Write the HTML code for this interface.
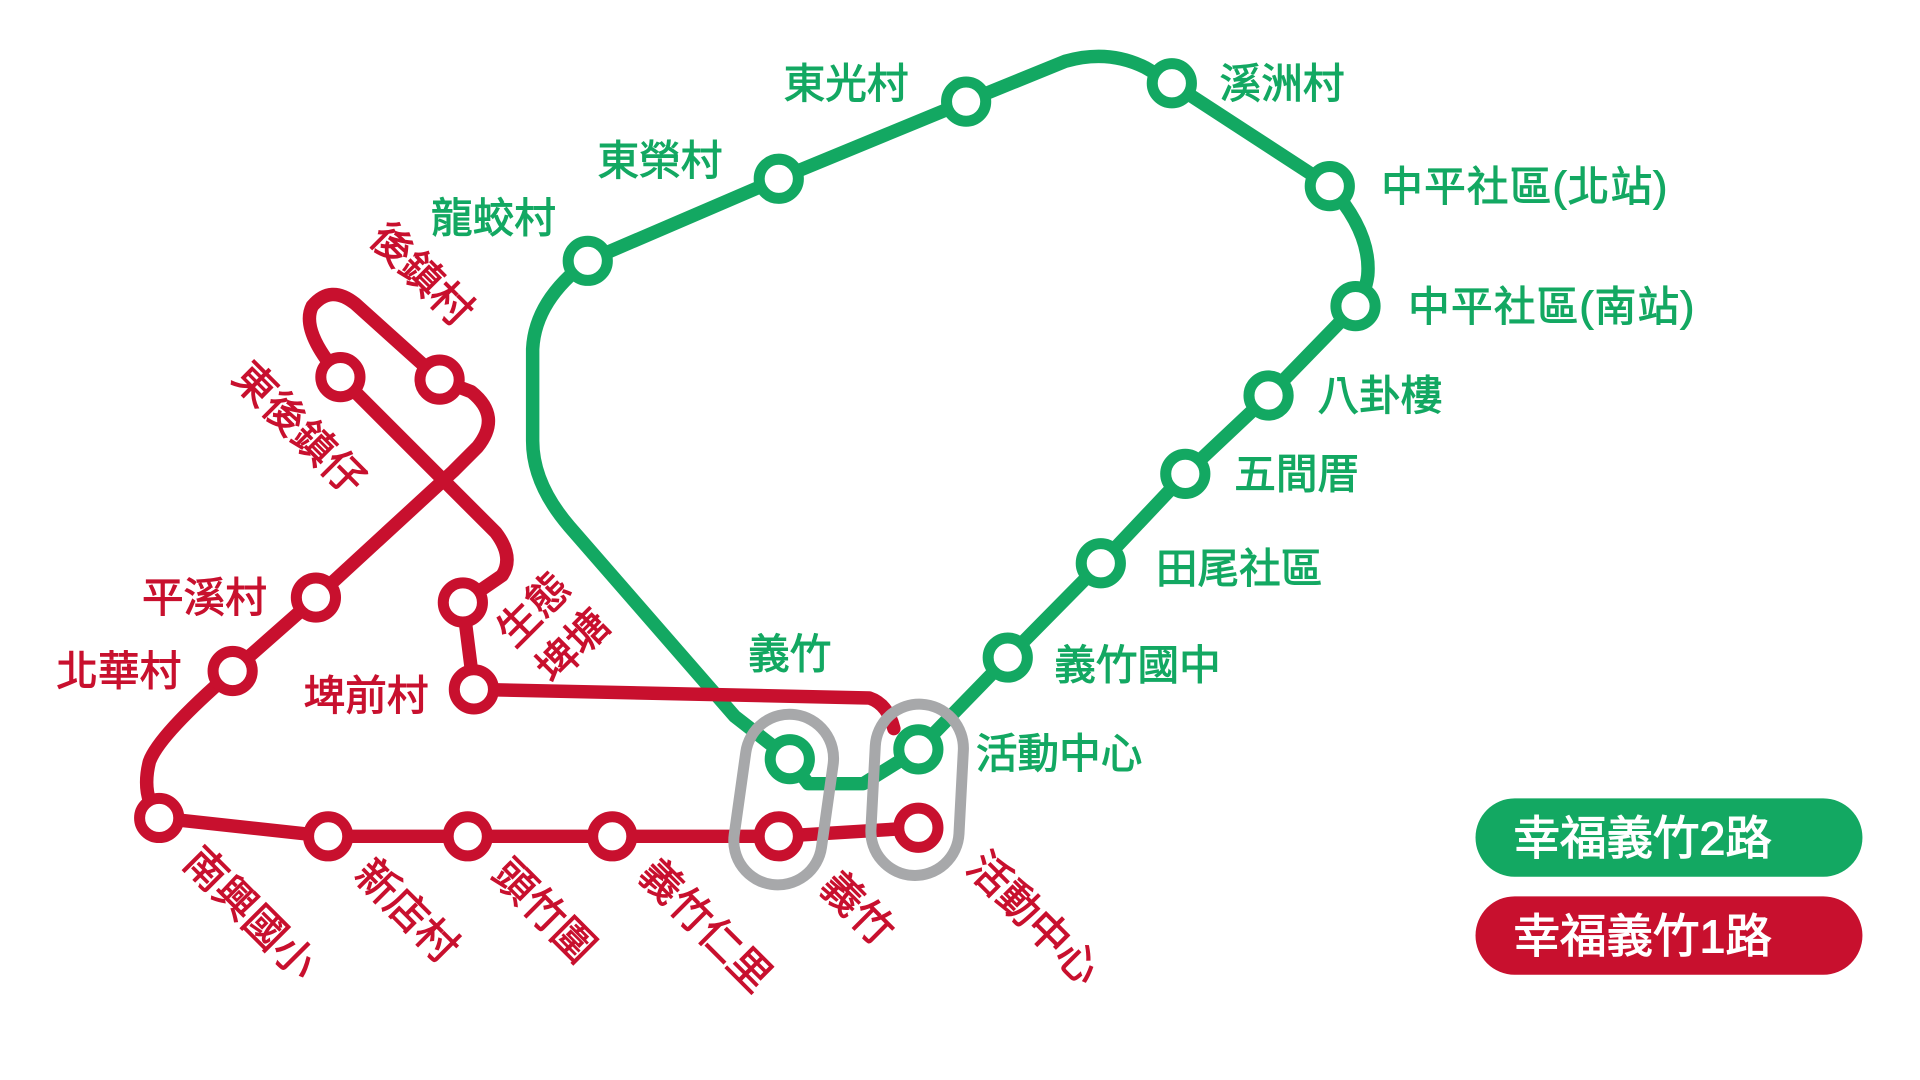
<!DOCTYPE html>
<html><head><meta charset="utf-8"><style>
html,body{margin:0;padding:0;background:#fff;width:1920px;height:1080px;overflow:hidden}
svg{display:block}
text{font-family:"Liberation Sans","Noto Sans CJK TC",sans-serif;font-weight:normal;stroke-width:0.8}
.g{fill:#13a862;stroke:#13a862;font-size:34px}
.r{fill:#c8102e;stroke:#c8102e;font-size:34px}
.w{fill:#fff;stroke:#fff;font-size:38px;stroke-width:0.9}
</style></head><body>
<svg width="1920" height="1080" viewBox="0 0 1568 882" preserveAspectRatio="none" xmlns="http://www.w3.org/2000/svg">
<g fill="none" stroke-linecap="round" stroke-linejoin="round" stroke-width="11">
<path stroke="#13a862" d="M645,620 L600,585 L465,430 Q435,395 435,360 L435,285 Q437,245 480,213 L636,146 L789,83 L870,50 Q905,40 935,55 L957,68 L1086,152 Q1120,190 1117,225 Q1115,240 1107,250 L1036,323 L968,387 L899,460 L823,537 L750,612 L705,640 L660,640 L645,620"/>
<path stroke="#c8102e" d="M750,676 L636,683 L500,683 L382,683 L268,683 L130,668 Q115,650 122,622 Q130,600 190,548 L258,488 L370,385 L390,365 Q410,340 385,320 L359,310 L290,248 Q270,232 255,250 Q245,270 278,308 L405,435 Q420,455 410,470 L378,492 L387,563 L710,570 Q725,575 730,595"/>
</g>
<g fill="none" stroke="#a7a8aa" stroke-width="9">
<rect x="604" y="583" width="72" height="140" rx="36" transform="rotate(8 640 653)"/>
<rect x="713" y="575" width="72" height="140" rx="36" transform="rotate(3 749 645)"/>
</g>
<g fill="#fff" stroke-width="9">
<g stroke="#13a862">
<circle cx="480" cy="213" r="16"/><circle cx="636" cy="146" r="16"/><circle cx="789" cy="83" r="16"/>
<circle cx="957" cy="68" r="16"/><circle cx="1086" cy="152" r="16"/><circle cx="1107" cy="250" r="16"/>
<circle cx="1036" cy="323" r="16"/><circle cx="968" cy="387" r="16"/><circle cx="899" cy="460" r="16"/>
<circle cx="823" cy="537" r="16"/><circle cx="750" cy="612" r="16"/><circle cx="645" cy="620" r="16"/>
</g>
<g stroke="#c8102e">
<circle cx="359" cy="310" r="16"/><circle cx="278" cy="308" r="16"/><circle cx="258" cy="488" r="16"/>
<circle cx="190" cy="548" r="16"/><circle cx="378" cy="492" r="16"/><circle cx="387" cy="563" r="16"/>
<circle cx="130" cy="668" r="16"/><circle cx="268" cy="683" r="16"/><circle cx="382" cy="683" r="16"/>
<circle cx="500" cy="683" r="16"/><circle cx="636" cy="683" r="16"/><circle cx="750" cy="676" r="16"/>
</g>
</g>
<text class="g" x="352" y="190">龍蛟村</text>
<text class="g" x="488" y="143">東榮村</text>
<text class="g" x="640" y="80">東光村</text>
<text class="g" x="996" y="80">溪洲村</text>
<text class="g" x="1128" y="164" letter-spacing="1">中平社區(北站)</text>
<text class="g" x="1150" y="262" letter-spacing="1">中平社區(南站)</text>
<text class="g" x="1076" y="335">八卦樓</text>
<text class="g" x="1008" y="399">五間厝</text>
<text class="g" x="944" y="476">田尾社區</text>
<text class="g" x="861" y="555">義竹國中</text>
<text class="g" x="797" y="627">活動中心</text>
<text class="g" x="611" y="546">義竹</text>
<text class="r" x="116" y="500">平溪村</text>
<text class="r" x="46" y="560">北華村</text>
<text class="r" x="248" y="580">埤前村</text>
<text class="r" transform="translate(300,196) rotate(45)">後鎮村</text>
<text class="r" transform="translate(188,310) rotate(45)">東後鎮仔</text>
<text class="r" transform="translate(420,530) rotate(-45)">生態</text>
<text class="r" transform="translate(452,560) rotate(-45)">埤塘</text>
<text class="r" transform="translate(148,706) rotate(45)">南興國小</text>
<text class="r" transform="translate(288,716) rotate(45)">新店村</text>
<text class="r" transform="translate(400,716) rotate(45)">頭竹圍</text>
<text class="r" transform="translate(520,716) rotate(45)">義竹仁里</text>
<text class="r" transform="translate(668,726) rotate(45)">義竹</text>
<text class="r" transform="translate(788,710) rotate(45)">活動中心</text>
<rect x="1205" y="652" width="316" height="64" rx="32" fill="#13a862"/>
<text class="w" x="1236" y="698">幸福義竹2路</text>
<rect x="1205" y="732" width="316" height="64" rx="32" fill="#c8102e"/>
<text class="w" x="1236" y="778">幸福義竹1路</text>
</svg>
</body></html>
